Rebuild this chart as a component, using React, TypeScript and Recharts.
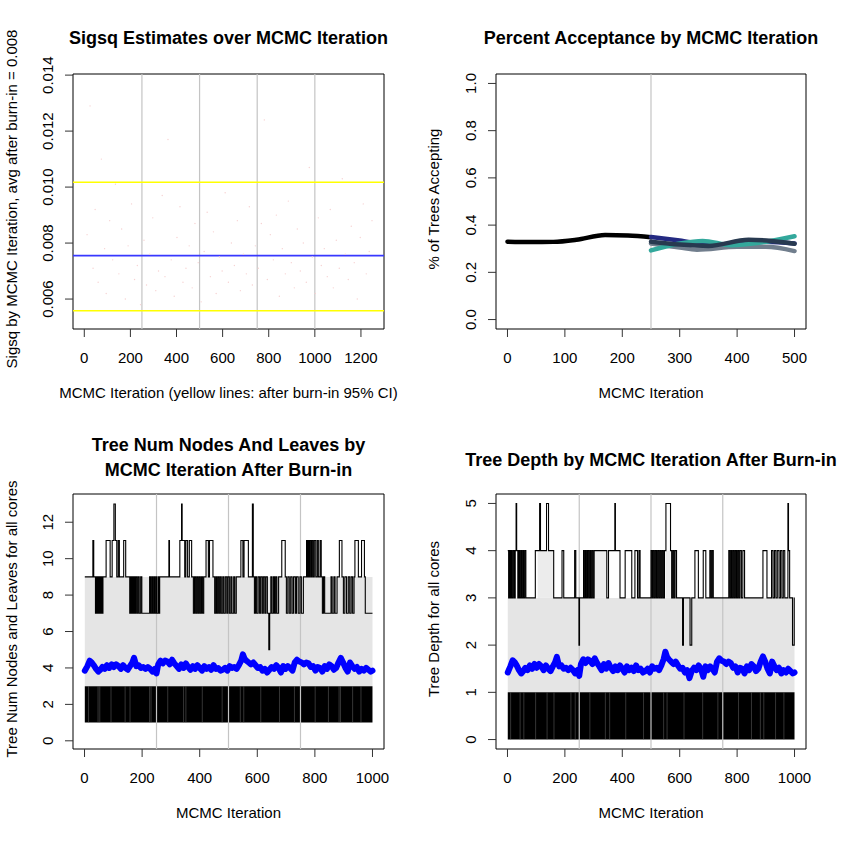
import React from 'react';
import {
  Area,
  ComposedChart,
  Line,
  ReferenceArea,
  ReferenceLine,
  Scatter,
  XAxis,
  YAxis
} from 'recharts';

const FONT = '"Liberation Sans", Arial, Helvetica, sans-serif';
const FS = 15;

// ---- Sigsq panel ----
const sigsqIter = [
  12, 25, 38, 47, 60, 74, 88, 95, 110, 123, 135, 150, 162, 178, 190, 205, 218, 230, 244, 259,
  270, 284, 297, 310, 322, 338, 350, 363, 377, 390, 402, 415, 428, 441, 455, 468, 480, 494, 507, 520,
  533, 547, 560, 572, 586, 598, 611, 625, 638, 651, 664, 677, 690, 703, 716, 729, 742, 755, 768, 781,
  794, 807, 820, 833, 846, 859, 872, 885, 898, 911, 924, 937, 950, 963, 976, 989, 1002, 1015, 1028, 1041,
  1054, 1067, 1080, 1093, 1106, 1119, 1132, 1145, 1158, 1171, 1184, 1197, 1210, 1223, 1236, 1248
];
const sigsqVal = [
  0.0083, 0.0129, 0.0071, 0.0092, 0.0066, 0.011, 0.0078, 0.0062, 0.0088, 0.0074, 0.0101, 0.0069, 0.0085, 0.006, 0.0079, 0.0094, 0.0067, 0.0072, 0.0058, 0.0081,
  0.0065, 0.0076, 0.0089, 0.0063, 0.007, 0.0097, 0.0068, 0.0117, 0.0074, 0.0061, 0.0082, 0.0093, 0.0066, 0.0071, 0.0079, 0.0064, 0.0087, 0.0073, 0.0059, 0.0077,
  0.0091, 0.0068, 0.0084, 0.0062, 0.0075, 0.007, 0.0098, 0.0066, 0.008, 0.0072, 0.0088, 0.0063, 0.0076, 0.0069, 0.0093, 0.0065, 0.0079, 0.0071, 0.0087, 0.0124,
  0.0067, 0.0083, 0.0074, 0.009, 0.0061, 0.0078, 0.0069, 0.0095, 0.0073, 0.0064, 0.0085, 0.007, 0.008, 0.0066, 0.0107, 0.0075, 0.0062, 0.0089, 0.0072, 0.0078,
  0.0068, 0.0092, 0.0064, 0.0081, 0.0071, 0.0103, 0.0076, 0.0067, 0.0086, 0.0073, 0.006, 0.0082, 0.0094, 0.0069, 0.0077, 0.0088
];
const sigsqCiUpper = 0.01017;
const sigsqMean = 0.00755;
const sigsqCiLower = 0.00558;
const sigsqXTicks = [0, 200, 400, 600, 800, 1000, 1200];
const sigsqYTicks = [0.006, 0.008, 0.01, 0.012, 0.014];
const sigsqCoreBreaks = [250, 500, 750, 1000];

// ---- Acceptance panel ----
const accBurnIter = [0, 40, 80, 120, 170, 210, 250];
const accBurnVal = [0.33, 0.328, 0.329, 0.338, 0.358, 0.356, 0.349];
const accNavyIter = [250, 300, 350, 400, 450, 500];
const accNavyVal = [0.35, 0.335, 0.318, 0.32, 0.33, 0.322];
const accTealIter = [250, 300, 340, 390, 440, 500];
const accTealVal = [0.293, 0.322, 0.333, 0.315, 0.326, 0.353];
const accGrayIter = [250, 300, 330, 400, 450, 500];
const accGrayVal = [0.322, 0.305, 0.296, 0.308, 0.308, 0.29];
const accSlateIter = [250, 300, 350, 420, 460, 500];
const accSlateVal = [0.33, 0.318, 0.312, 0.338, 0.333, 0.321];
const accXTicks = [0, 100, 200, 300, 400, 500];
const accYTicks = [0, 0.2, 0.4, 0.6, 0.8, 1];
const burnIn = 250;

// ---- Tree panels (after burn-in) ----
const treeXTicks = [0, 200, 400, 600, 800, 1000];
const treeCoreBreaks = [250, 500, 750];
const nodesYTicks = [0, 2, 4, 6, 8, 10, 12];
const depthYTicks = [0, 1, 2, 3, 4, 5];
const iterSpan = [1, 1000];
const nodesLowBand = [1, 3];
const nodesGrayBand = [3, 9];
const depthLowBand = [0, 1];
const depthGrayBand = [1, 3];
const depthGrayHigh: [number, number][] = [[105, 160], [302, 346], [552, 568]];
// iterations where every core sat above the minimum (light streaks in the black band)
const nodesLowGaps = [14, 47, 53, 92, 141, 158, 226, 231, 289, 344, 352, 409, 478, 541, 553, 612, 677, 729, 801, 847, 884, 889, 931, 960];
const depthLowGaps = [11, 44, 57, 98, 138, 162, 221, 236, 287, 341, 356, 412, 474, 544, 556, 615, 680, 733, 805, 850, 881, 893, 934, 963];

const nodesMaxSteps: [number, number][] = [
  [1, 9], [29, 11], [32, 9], [38, 7], [40, 9], [43, 7], [46, 9], [49, 7], [52, 9], [55, 7], [58, 9], [61, 7], [64, 9],
  [75, 11], [89, 9], [96, 11], [102, 13], [107, 11], [112, 9], [117, 11], [121, 9], [136, 11], [143, 9], [157, 7],
  [160, 9], [163, 7], [166, 9], [169, 7], [172, 9], [175, 7], [178, 9], [182, 7], [186, 9], [190, 7], [195, 9], [199, 7],
  [226, 9], [229, 7], [233, 9], [236, 7], [240, 9], [243, 7], [247, 9], [250, 7], [255, 9], [258, 7], [261, 9], [293, 11],
  [295, 9], [331, 11], [337, 13], [339, 11], [348, 9], [352, 11], [358, 9], [364, 11], [372, 9], [378, 7], [382, 9],
  [386, 7], [390, 9], [394, 7], [398, 9], [402, 7], [406, 9], [410, 7], [414, 9], [422, 11], [430, 9], [434, 11], [446, 9],
  [452, 7], [456, 9], [459, 7], [463, 9], [467, 7], [471, 9], [475, 7], [480, 9], [484, 7], [489, 9], [494, 7], [498, 9],
  [503, 7], [508, 9], [512, 7], [518, 9], [522, 7], [527, 9], [543, 11], [550, 9], [554, 11], [569, 9], [583, 13], [586, 9],
  [590, 7], [594, 9], [598, 7], [603, 9], [608, 7], [612, 9], [617, 7], [621, 9], [626, 7], [630, 9], [635, 7], [640, 5],
  [643, 7], [647, 9], [651, 7], [656, 9], [660, 7], [664, 9], [668, 7], [674, 9], [685, 11], [697, 9], [701, 7], [706, 9],
  [711, 7], [716, 9], [721, 7], [726, 9], [732, 7], [736, 9], [742, 7], [748, 9], [753, 7], [760, 9], [771, 11], [774, 9],
  [777, 11], [780, 9], [783, 11], [787, 9], [790, 11], [794, 9], [798, 11], [803, 9], [808, 11], [812, 9], [818, 11],
  [822, 9], [826, 7], [830, 9], [834, 7], [856, 9], [860, 7], [866, 9], [870, 7], [877, 9], [885, 11], [894, 9], [899, 7],
  [904, 9], [910, 7], [916, 9], [921, 7], [926, 9], [931, 7], [936, 9], [939, 11], [951, 9], [962, 11], [972, 9], [975, 7],
  [1000, 7]
];

const depthMaxSteps: [number, number][] = [
  [1, 4], [4, 3], [7, 4], [10, 3], [13, 4], [16, 3], [20, 4], [24, 3], [27, 4], [30, 5], [32, 4], [36, 3], [39, 4], [42, 3],
  [46, 4], [49, 3], [53, 4], [56, 3], [60, 4], [64, 3], [97, 4], [112, 5], [115, 4], [136, 5], [143, 4], [161, 3], [190, 4],
  [196, 3], [234, 4], [238, 3], [249, 2], [251, 3], [265, 4], [268, 3], [272, 4], [275, 3], [279, 4], [283, 3], [287, 4],
  [290, 3], [294, 4], [298, 3], [302, 4], [346, 3], [352, 4], [374, 5], [376, 4], [392, 3], [410, 4], [433, 3], [444, 4],
  [453, 3], [458, 4], [462, 3], [500, 4], [504, 3], [507, 4], [511, 3], [515, 4], [519, 3], [523, 4], [527, 3], [531, 4],
  [535, 3], [539, 4], [543, 3], [547, 4], [552, 5], [568, 4], [572, 3], [576, 4], [580, 3], [584, 4], [589, 3], [610, 2],
  [613, 3], [636, 2], [642, 3], [653, 4], [665, 3], [682, 4], [691, 3], [705, 4], [709, 3], [713, 4], [717, 3], [771, 4],
  [775, 3], [779, 4], [782, 3], [786, 4], [790, 3], [794, 4], [798, 3], [802, 4], [806, 3], [810, 4], [815, 3], [820, 4],
  [826, 3], [890, 4], [904, 3], [920, 4], [925, 3], [930, 4], [935, 3], [940, 4], [946, 3], [951, 4], [956, 3], [961, 4],
  [966, 3], [977, 5], [979, 4], [983, 3], [993, 2], [999, 3], [1000, 3]
];

const meanIter = [
  1, 10, 18, 25, 32, 40, 48, 55, 62, 70, 78, 86, 94, 102, 110, 118, 126, 134, 142, 150,
  158, 166, 172, 180, 188, 196, 204, 212, 220, 228, 236, 244, 250, 256, 264, 272, 280, 288, 296, 304,
  312, 320, 328, 336, 344, 352, 360, 368, 376, 384, 392, 400, 408, 416, 424, 432, 440, 448, 456, 464,
  472, 480, 488, 496, 504, 512, 520, 528, 536, 544, 550, 556, 562, 570, 578, 586, 594, 602, 610, 618,
  626, 634, 642, 650, 658, 666, 674, 682, 690, 698, 706, 714, 722, 730, 738, 746, 754, 762, 770, 778,
  786, 794, 802, 810, 818, 826, 834, 842, 850, 858, 866, 874, 882, 890, 898, 906, 914, 922, 930, 938,
  946, 954, 962, 970, 978, 986, 994, 1000
];
const nodesMean = [
  3.85, 4.1, 4.4, 4.3, 4.15, 3.95, 3.8, 3.9, 4.05, 3.95, 4.15, 4.0, 4.2, 4.05, 4.2, 4.1, 3.95, 4.15, 4.0, 3.9,
  4.1, 4.3, 4.55, 4.1, 4.15, 4.0, 4.05, 3.95, 4.05, 3.95, 3.8, 3.95, 3.7, 4.2, 4.4, 4.25, 4.4, 4.35, 4.2, 4.45,
  4.25, 4.1, 3.95, 4.2, 4.0, 4.25, 4.05, 3.9, 4.1, 3.95, 4.15, 4.0, 3.85, 4.1, 3.95, 4.05, 3.9, 4.15, 3.95, 4.0,
  3.85, 3.9, 4.0, 3.85, 4.1, 4.0, 4.05, 3.95, 4.15, 4.4, 4.75, 4.5, 4.4, 4.3, 4.2, 4.3, 4.15, 4.0, 4.05, 3.85,
  3.95, 3.75, 3.9, 4.05, 3.95, 4.15, 4.0, 3.75, 4.1, 3.95, 4.1, 4.0, 3.85, 4.3, 4.45, 4.35, 4.3, 4.2, 4.3, 4.25,
  4.05, 4.1, 3.85, 4.05, 4.0, 3.8, 4.1, 3.95, 4.2, 4.1, 3.9, 4.0, 4.3, 4.55, 4.3, 4.0, 3.8, 4.3, 4.1, 3.95,
  4.05, 3.8, 3.95, 3.85, 4.0, 3.9, 3.8, 3.85
];
const depthMean = [
  1.42, 1.55, 1.68, 1.64, 1.57, 1.47, 1.4, 1.45, 1.52, 1.47, 1.57, 1.5, 1.6, 1.52, 1.6, 1.55, 1.47, 1.57, 1.5, 1.45,
  1.55, 1.64, 1.75, 1.55, 1.57, 1.5, 1.52, 1.47, 1.52, 1.47, 1.4, 1.47, 1.35, 1.6, 1.7, 1.62, 1.7, 1.67, 1.6, 1.72,
  1.62, 1.55, 1.47, 1.6, 1.5, 1.62, 1.52, 1.45, 1.55, 1.47, 1.57, 1.5, 1.42, 1.55, 1.47, 1.52, 1.45, 1.57, 1.47, 1.5,
  1.42, 1.45, 1.5, 1.42, 1.55, 1.5, 1.52, 1.47, 1.57, 1.7, 1.86, 1.75, 1.7, 1.65, 1.6, 1.65, 1.57, 1.5, 1.52, 1.42,
  1.47, 1.3, 1.45, 1.52, 1.47, 1.57, 1.5, 1.33, 1.55, 1.47, 1.55, 1.5, 1.42, 1.65, 1.72, 1.67, 1.65, 1.6, 1.65, 1.62,
  1.52, 1.55, 1.42, 1.52, 1.5, 1.4, 1.55, 1.47, 1.6, 1.55, 1.45, 1.5, 1.65, 1.76, 1.65, 1.5, 1.4, 1.65, 1.55, 1.47,
  1.52, 1.4, 1.47, 1.42, 1.5, 1.45, 1.4, 1.42
];

// helpers to build the series rows from the arrays above
const zip = (xs: number[], ys: number[]) =>
  xs.map((x, i) => ({ x, y: ys[i] })).filter((d) => d.y !== undefined);
const steps = (pairs: [number, number][]) => pairs.map(([x, y]) => ({ x, y }));
const band = (lohi: number[]) => iterSpan.map((x) => ({ x, range: lohi }));

const XTick = (props: any) => {
  const { x, y, payload } = props;
  return (
    <text x={x} y={y} dy="0.71em" textAnchor="middle" fontSize={FS} fontFamily={FONT} fill="#000">
      {payload.value}
    </text>
  );
};

const yTick = (fmt: (v: number) => string) => (props: any) => {
  const { x, y, payload } = props;
  return (
    <text
      x={x}
      y={y}
      transform={`rotate(-90 ${x} ${y})`}
      textAnchor="middle"
      fontSize={FS}
      fontFamily={FONT}
      fill="#000"
    >
      {fmt(payload.value)}
    </text>
  );
};

const MARGIN = { top: 20, right: 20, bottom: 0, left: 20 };

const xAxis = (domain: number[], ticks: number[]) => (
  <XAxis
    type="number"
    dataKey="x"
    domain={domain}
    ticks={ticks}
    interval={0}
    allowDataOverflow
    height={60}
    tickSize={8}
    tickMargin={15}
    axisLine={false}
    tickLine={{ stroke: '#333' }}
    tick={<XTick />}
  />
);

const yAxis = (domain: number[], ticks: number[], fmt: (v: number) => string) => (
  <YAxis
    type="number"
    dataKey="y"
    domain={domain}
    ticks={ticks}
    interval={0}
    allowDataOverflow
    width={40}
    tickSize={8}
    tickMargin={12}
    axisLine={false}
    tickLine={{ stroke: '#333' }}
    tick={yTick(fmt)}
  />
);

const box = (xd: number[], yd: number[]) => (
  <ReferenceArea x1={xd[0]} x2={xd[1]} y1={yd[0]} y2={yd[1]} fill="none" stroke="#000" strokeWidth={1} ifOverflow="visible" />
);

const pos = (left: number, top: number) => ({ position: 'absolute' as const, left: left - 60, top: top - 20 });

const SigsqPanel = () => {
  const xd = [-49, 1300];
  const yd = [0.00493, 0.01404];
  return (
    <div style={pos(73, 74)}>
      <ComposedChart width={391} height={335} margin={MARGIN}>
        {xAxis(xd, sigsqXTicks)}
        {yAxis(yd, sigsqYTicks, (v) => v.toFixed(3))}
        <Scatter
          data={zip(sigsqIter, sigsqVal)}
          dataKey="y"
          isAnimationActive={false}
          shape={(p: any) => <circle cx={p.cx} cy={p.cy} r={0.7} fill="#f6d2d2" />}
        />
        {sigsqCoreBreaks.map((b) => (
          <ReferenceLine key={b} x={b} stroke="#c4c4c4" strokeWidth={1.2} />
        ))}
        <ReferenceLine y={sigsqCiUpper} stroke="#ffff00" strokeWidth={1.5} />
        <ReferenceLine y={sigsqCiLower} stroke="#ffff00" strokeWidth={1.5} />
        <ReferenceLine y={sigsqMean} stroke="#3838ff" strokeWidth={1.6} />
        {box(xd, yd)}
      </ComposedChart>
    </div>
  );
};

const AcceptPanel = () => {
  const xd = [-20, 520];
  const yd = [-0.04, 1.04];
  const w = 4.5;
  return (
    <div style={pos(496, 74)}>
      <ComposedChart width={390} height={335} margin={MARGIN}>
        {xAxis(xd, accXTicks)}
        {yAxis(yd, accYTicks, (v) => v.toFixed(1))}
        <ReferenceLine x={burnIn} stroke="#c4c4c4" strokeWidth={1.2} />
        <Line data={zip(accBurnIter, accBurnVal)} dataKey="y" type="monotone" stroke="#000" strokeWidth={w} strokeLinecap="round" dot={false} isAnimationActive={false} />
        <Line data={zip(accNavyIter, accNavyVal)} dataKey="y" type="monotone" stroke="#242a82" strokeWidth={w} strokeLinecap="round" dot={false} isAnimationActive={false} />
        <Line data={zip(accGrayIter, accGrayVal)} dataKey="y" type="monotone" stroke="#717e8d" strokeWidth={w} strokeLinecap="round" dot={false} isAnimationActive={false} />
        <Line data={zip(accTealIter, accTealVal)} dataKey="y" type="monotone" stroke="#33a89c" strokeWidth={w} strokeLinecap="round" dot={false} isAnimationActive={false} />
        <Line data={zip(accSlateIter, accSlateVal)} dataKey="y" type="monotone" stroke="#283a50" strokeWidth={w} strokeLinecap="round" dot={false} isAnimationActive={false} />
        {box(xd, yd)}
      </ComposedChart>
    </div>
  );
};

const TreePanel = ({
  left,
  yd,
  yTicks,
  gray,
  low,
  gaps,
  maxSteps,
  mean,
  extraGray
}: {
  left: number;
  yd: number[];
  yTicks: number[];
  gray: number[];
  low: number[];
  gaps: number[];
  maxSteps: [number, number][];
  mean: number[];
  extraGray: [number, number][];
}) => {
  const xd = [-40, 1040];
  return (
    <div style={pos(left, 494)}>
      <ComposedChart width={left === 73 ? 391 : 390} height={335} margin={MARGIN}>
        {xAxis(xd, treeXTicks)}
        {yAxis(yd, yTicks, (v) => String(v))}
        <Area data={band(gray)} dataKey="range" type="linear" stroke="none" fill="#e5e5e5" fillOpacity={1} isAnimationActive={false} />
        {extraGray.map(([a, b]) => (
          <ReferenceArea key={a} x1={a} x2={b} y1={gray[1]} y2={gray[1] + 1} fill="#ececec" fillOpacity={1} stroke="none" />
        ))}
        <Area data={band(low)} dataKey="range" type="linear" stroke="none" fill="#000" fillOpacity={1} isAnimationActive={false} />
        {gaps.map((g) => (
          <ReferenceLine key={g} segment={[{ x: g, y: low[0] }, { x: g, y: low[1] }]} stroke="#6a6a6a" strokeWidth={0.5} />
        ))}
        {treeCoreBreaks.map((b) => (
          <ReferenceLine key={b} x={b} stroke="#c4c4c4" strokeWidth={1.2} />
        ))}
        <Line data={steps(maxSteps)} dataKey="y" type="stepAfter" stroke="#000" strokeWidth={1.1} dot={false} isAnimationActive={false} />
        <Line data={zip(meanIter, mean)} dataKey="y" type="linear" stroke="#0000ff" strokeWidth={6} strokeLinejoin="round" strokeLinecap="round" dot={false} isAnimationActive={false} />
        {box(xd, yd)}
      </ComposedChart>
    </div>
  );
};

const Label = ({ x, y, children, size = FS, bold = false, rotate = false }: any) => (
  <text
    x={x}
    y={y}
    textAnchor="middle"
    fontSize={size}
    fontWeight={bold ? 'bold' : 'normal'}
    fontFamily={FONT}
    fill="#000"
    transform={rotate ? `rotate(-90 ${x} ${y})` : undefined}
  >
    {children}
  </text>
);

export default function App() {
  return (
    <div style={{ position: 'absolute', left: 0, top: 0, width: 844, height: 842, background: '#fff' }}>
      <SigsqPanel />
      <AcceptPanel />
      <TreePanel left={73} yd={[-0.45, 13.55]} yTicks={nodesYTicks} gray={nodesGrayBand} low={nodesLowBand} gaps={nodesLowGaps} maxSteps={nodesMaxSteps} mean={nodesMean} extraGray={[]} />
      <TreePanel left={496} yd={[-0.2, 5.2]} yTicks={depthYTicks} gray={depthGrayBand} low={depthLowBand} gaps={depthLowGaps} maxSteps={depthMaxSteps} mean={depthMean} extraGray={depthGrayHigh} />
      <svg width={844} height={842} style={{ position: 'absolute', left: 0, top: 0, pointerEvents: 'none' }}>
        <Label x={228.5} y={43.5} size={18} bold>Sigsq Estimates over MCMC Iteration</Label>
        <Label x={651} y={43.5} size={18} bold>Percent Acceptance by MCMC Iteration</Label>
        <Label x={228.5} y={450.5} size={18} bold>Tree Num Nodes And Leaves by</Label>
        <Label x={228.5} y={475.5} size={18} bold>MCMC Iteration After Burn-in</Label>
        <Label x={651} y={465.5} size={18} bold>Tree Depth by MCMC Iteration After Burn-in</Label>

        <Label x={228.5} y={398}>MCMC Iteration (yellow lines: after burn-in 95% CI)</Label>
        <Label x={651} y={398}>MCMC Iteration</Label>
        <Label x={228.5} y={818}>MCMC Iteration</Label>
        <Label x={651} y={818}>MCMC Iteration</Label>

        <Label x={16.5} y={199} rotate>Sigsq by MCMC Iteration, avg after burn-in = 0.008</Label>
        <Label x={438.5} y={199} rotate>% of Trees Accepting</Label>
        <Label x={16.5} y={619} rotate>Tree Num Nodes and Leaves for all cores</Label>
        <Label x={438.5} y={619} rotate>Tree Depth for all cores</Label>
      </svg>
    </div>
  );
}
